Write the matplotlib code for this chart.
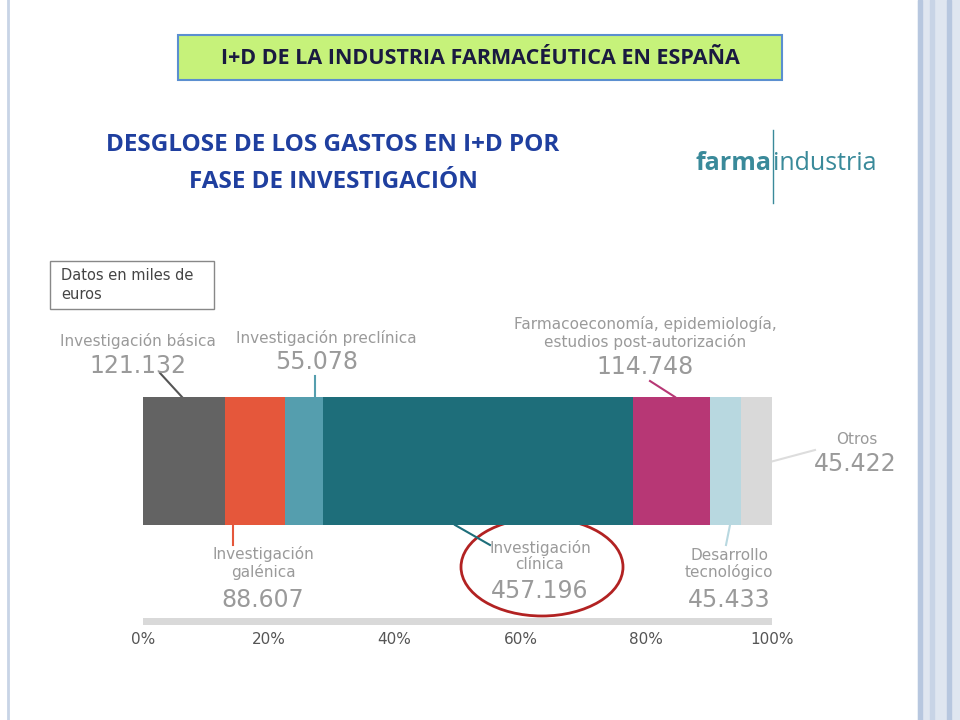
import matplotlib
matplotlib.use("Agg")
import matplotlib.pyplot as plt
from matplotlib.patches import Rectangle, Ellipse

categories = ["Investigación básica", "Investigación galénica", "Investigación preclínica",
              "Investigación clínica", "Farmacoeconomía, epidemiología, estudios post-autorización",
              "Desarrollo tecnológico", "Otros"]
values = [121132, 88607, 55078, 457196, 114748, 45433, 45422]
value_labels = ["121.132", "88.607", "55.078", "457.196", "114.748", "45.433", "45.422"]
colors = ["#636363", "#e5573b", "#559eae", "#1e6e7a", "#b73775", "#b8d8e0", "#d9d9d9"]
tick_labels = ["0%", "20%", "40%", "60%", "80%", "100%"]

W, H = 960, 720
fig = plt.figure(figsize=(9.6, 7.2), dpi=100)
fig.patch.set_facecolor("white")
ov = fig.add_axes([0, 0, 1, 1])
ov.set_xlim(0, W); ov.set_ylim(H, 0); ov.axis("off")

# slide decorations
ov.add_patch(Rectangle((918, 0), 42, 720, color="#dfe6f0", zorder=0))
for x, c in [(918, "#b7c7df"), (930, "#c8d4e6"), (947, "#b7c7df")]:
    ov.add_patch(Rectangle((x, 0), 4, 720, color=c, zorder=1))
ov.plot([8, 8], [0, 720], color="#c8d4e6", lw=2)

# title box
ov.add_patch(Rectangle((178, 35), 604, 45, facecolor="#c6f27a", edgecolor="#5b8fd0", lw=1.5))
ov.text(480, 59, "I+D DE LA INDUSTRIA FARMACÉUTICA EN ESPAÑA", ha="center", va="center",
        fontsize=15.5, fontweight="bold", color="#1a1a40", family="Open Sans")
ov.text(333, 145, "DESGLOSE DE LOS GASTOS EN I+D POR", ha="center", va="center",
        fontsize=17.5, fontweight="bold", color="#1f3f9f", family="Open Sans")
ov.text(333, 182, "FASE DE INVESTIGACIÓN", ha="center", va="center",
        fontsize=17.5, fontweight="bold", color="#1f3f9f", family="Open Sans")

# logo
ov.text(771, 163, "farma", ha="right", va="center", fontsize=18, fontweight="bold",
        color="#3a8a9a", family="Open Sans")
ov.text(773, 163, "industria", ha="left", va="center", fontsize=18, color="#3a8a9a", family="Open Sans")
ov.plot([773, 773], [130, 203], color="#3a8a9a", lw=1)

# data box
ov.add_patch(Rectangle((50, 261), 164, 48, facecolor="white", edgecolor="#888888", lw=1))
ov.text(61, 285, "Datos en miles de\neuros", ha="left", va="center", fontsize=10.5,
        color="#444444", linespacing=1.3)

# bar axes
x0, x1 = 143, 772
ax = fig.add_axes([x0 / W, 1 - 525 / H, (x1 - x0) / W, 128 / H])
total = sum(values)
left = 0
for v, c in zip(values, colors):
    p = v / total * 100
    ax.barh(0, p, left=left, color=c, height=1, edgecolor="none")
    left += p
ax.set_xlim(0, 100); ax.set_ylim(-0.5, 0.5); ax.axis("off")

# baseline and ticks
ax2 = fig.add_axes([x0 / W, 1 - 660 / H, (x1 - x0) / W, 45 / H])
ax2.set_xlim(0, 100); ax2.set_ylim(0, 1); ax2.axis("off")
ax2.barh(0.85, 100, left=0, height=0.15, color="#d9d9d9")
for i, t in enumerate(tick_labels):
    ax2.text(i * 20, 0.45, t, ha="center", va="center", fontsize=11, color="#555555")

gray = "#9a9a9a"
def lbl(x, y, s, size=11):
    ov.text(x, y, s, ha="center", va="center", fontsize=size, color=gray, linespacing=1.1)

lbl(138, 341, categories[0]); lbl(138, 366, value_labels[0], 17)
ov.plot([160, 182], [373, 397], color="#555555", lw=1.5)
lbl(263, 563, "Investigación\ngalénica"); lbl(263, 600, value_labels[1], 17)
ov.plot([233, 233], [525, 545], color=colors[1], lw=1.5)
lbl(326, 338, categories[2]); lbl(317, 362, value_labels[2], 17)
ov.plot([315, 315], [376, 397], color=colors[2], lw=1.5)
lbl(540, 556, "Investigación\nclínica"); lbl(540, 591, value_labels[3], 17)
ov.plot([455, 490], [525, 545], color=colors[3], lw=1.5)
lbl(645, 333, "Farmacoeconomía, epidemiología,\nestudios post-autorización"); lbl(645, 367, value_labels[4], 17)
ov.plot([650, 675], [381, 397], color=colors[4], lw=1.5)
lbl(729, 564, "Desarrollo\ntecnológico"); lbl(729, 600, value_labels[5], 17)
ov.plot([730, 726], [525, 545], color=colors[5], lw=1.5)
lbl(857, 439, categories[6]); lbl(855, 464, value_labels[6], 17)
ov.plot([770, 815], [462, 450], color="#dddddd", lw=1.5)

ov.add_patch(Ellipse((542, 567), 162, 98, fill=False, edgecolor="#b22222", lw=2))

fig.savefig("out.png", dpi=100)
